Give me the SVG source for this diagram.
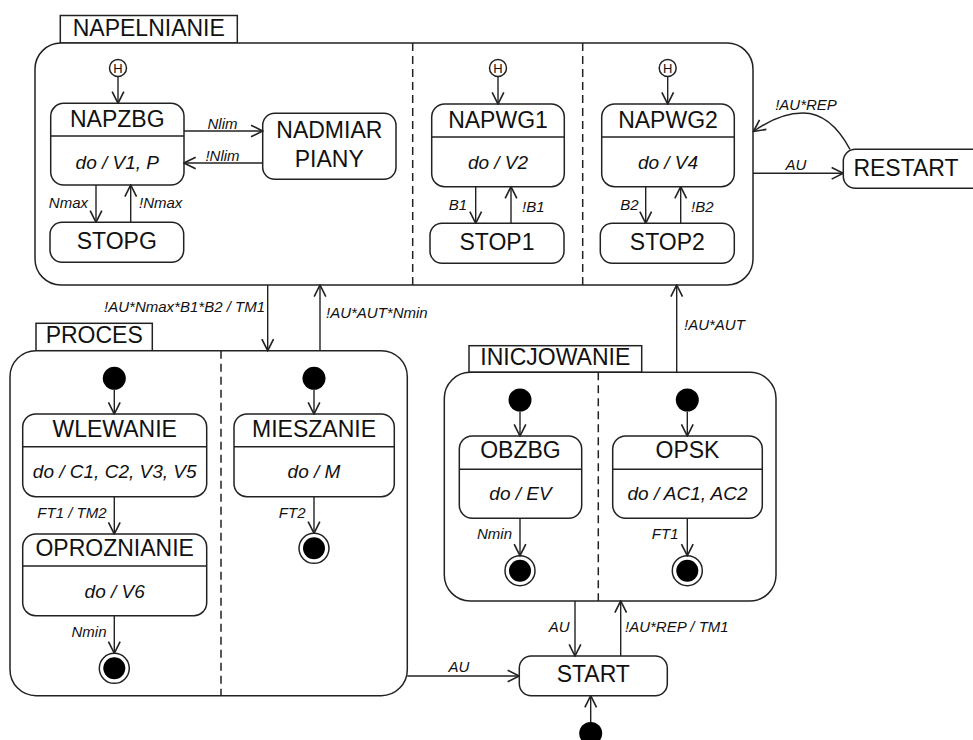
<svg xmlns="http://www.w3.org/2000/svg" width="973" height="740" viewBox="0 0 973 740">
<style>
text{font-family:"Liberation Sans",Arial,sans-serif;fill:#111}
.t{font-size:23px;text-anchor:middle}
.d{font-size:19px;font-style:italic;text-anchor:middle}
.l{font-size:15px;font-style:italic}
.e{text-anchor:end}
.h{font-size:13px;text-anchor:middle}
.box{fill:#fff;stroke:#222;stroke-width:1.5}
.ln{fill:none;stroke:#222;stroke-width:1.5}
.dash{fill:none;stroke:#222;stroke-width:1.5;stroke-dasharray:8,5}
.c{fill:none;stroke:#222;stroke-width:1.4;marker-end:url(#a)}
.dot{fill:#000}
</style>
<defs>
<marker id="a" markerUnits="userSpaceOnUse" markerWidth="14" markerHeight="14" viewBox="0 0 12 12" refX="11" refY="6" orient="auto">
<path d="M1,1 L11,6 L1,11" fill="none" stroke="#222" stroke-width="1.4"/>
</marker>
</defs>

<g id="NAPELNIANIE">
<rect class="box" x="60.3" y="15.5" width="177" height="27.5"/>
<text class="t" x="148.8" y="36">NAPELNIANIE</text>
<rect class="box" x="35" y="43" width="718" height="242" rx="26"/>
<line class="dash" x1="412.7" y1="43" x2="412.7" y2="285"/>
<line class="dash" x1="582.7" y1="43" x2="582.7" y2="285"/>
</g>
<g id="H1"><circle class="box" cx="118" cy="68" r="8.5"/><text class="h" x="118" y="72.6">H</text></g>
<g id="H2"><circle class="box" cx="498" cy="68" r="8.5"/><text class="h" x="498" y="72.6">H</text></g>
<g id="H3"><circle class="box" cx="667.7" cy="68" r="8.5"/><text class="h" x="667.7" y="72.6">H</text></g>
<g id="NAPZBG">
<rect class="box" x="50.7" y="103.3" width="133.3" height="81.7" rx="13"/>
<line class="ln" x1="50.7" y1="136" x2="184" y2="136"/>
<text class="t" x="117.3" y="126.7">NAPZBG</text>
<text class="d" x="117.3" y="169">do / V1, P</text>
</g>
<g id="NADMIAR_PIANY">
<rect class="box" x="262.7" y="113.3" width="133.3" height="66" rx="12"/>
<text class="t" x="329.3" y="138.3">NADMIAR</text>
<text class="t" x="329.3" y="167.3">PIANY</text>
</g>
<g id="STOPG">
<rect class="box" x="50" y="222.3" width="133.7" height="40" rx="12"/>
<text class="t" x="116.8" y="249">STOPG</text>
</g>
<g id="NAPWG1">
<rect class="box" x="431.7" y="104" width="132.6" height="82.7" rx="13"/>
<line class="ln" x1="431.7" y1="137" x2="564.3" y2="137"/>
<text class="t" x="498" y="128">NAPWG1</text>
<text class="d" x="498" y="169.3">do / V2</text>
</g>
<g id="STOP1">
<rect class="box" x="430" y="223.3" width="134" height="40" rx="12"/>
<text class="t" x="497" y="250">STOP1</text>
</g>
<g id="NAPWG2">
<rect class="box" x="601.7" y="104" width="132.6" height="82.7" rx="13"/>
<line class="ln" x1="601.7" y1="137" x2="734.3" y2="137"/>
<text class="t" x="668" y="128">NAPWG2</text>
<text class="d" x="668" y="169.3">do / V4</text>
</g>
<g id="STOP2">
<rect class="box" x="600.3" y="223.3" width="134" height="40" rx="12"/>
<text class="t" x="667.3" y="250">STOP2</text>
</g>
<g id="RESTART">
<rect class="box" x="843.3" y="149.3" width="160" height="39" rx="12"/>
<text class="t" x="906" y="175.7">RESTART</text>
</g>

<g id="PROCES">
<rect class="box" x="36" y="323.3" width="116.3" height="27.4"/>
<text class="t" x="94.2" y="343.3">PROCES</text>
<rect class="box" x="10" y="350.7" width="397.3" height="345" rx="26"/>
<line class="dash" x1="221" y1="350.7" x2="221" y2="695.7"/>
</g>
<g id="init_P1"><circle class="dot" cx="114.3" cy="378.3" r="11.5"/></g>
<g id="WLEWANIE">
<rect class="box" x="22.7" y="414" width="184" height="82.7" rx="13"/>
<line class="ln" x1="22.7" y1="446.7" x2="206.7" y2="446.7"/>
<text class="t" x="114.7" y="436.7">WLEWANIE</text>
<text class="d" x="114.7" y="478.3">do / C1, C2, V3, V5</text>
</g>
<g id="OPROZNIANIE">
<rect class="box" x="22.7" y="534" width="184" height="81.7" rx="13"/>
<line class="ln" x1="22.7" y1="566" x2="206.7" y2="566"/>
<text class="t" x="114.7" y="556">OPROZNIANIE</text>
<text class="d" x="114.7" y="598.3">do / V6</text>
</g>
<g id="final_P1"><circle class="box" cx="114.3" cy="668.3" r="15"/><circle class="dot" cx="114.3" cy="668.3" r="11"/></g>
<g id="init_P2"><circle class="dot" cx="314" cy="378.3" r="11.5"/></g>
<g id="MIESZANIE">
<rect class="box" x="234" y="414" width="160.3" height="82.7" rx="13"/>
<line class="ln" x1="234" y1="446.7" x2="394.3" y2="446.7"/>
<text class="t" x="314" y="436.7">MIESZANIE</text>
<text class="d" x="314" y="478.3">do / M</text>
</g>
<g id="final_P2"><circle class="box" cx="314" cy="548.3" r="15"/><circle class="dot" cx="314" cy="548.3" r="11"/></g>

<g id="INICJOWANIE">
<rect class="box" x="469" y="345.7" width="172.7" height="26.6"/>
<text class="t" x="555.3" y="365">INICJOWANIE</text>
<rect class="box" x="444.3" y="372.3" width="331.7" height="228.7" rx="26"/>
<line class="dash" x1="598.3" y1="372.3" x2="598.3" y2="601"/>
</g>
<g id="init_I1"><circle class="dot" cx="520" cy="400" r="11.5"/></g>
<g id="OBZBG">
<rect class="box" x="459.3" y="436" width="122.4" height="82.3" rx="13"/>
<line class="ln" x1="459.3" y1="469.3" x2="581.7" y2="469.3"/>
<text class="t" x="520.5" y="458.3">OBZBG</text>
<text class="d" x="520.5" y="500">do / EV</text>
</g>
<g id="final_I1"><circle class="box" cx="520" cy="570.7" r="15"/><circle class="dot" cx="520" cy="570.7" r="11"/></g>
<g id="init_I2"><circle class="dot" cx="687.3" cy="400" r="11.5"/></g>
<g id="OPSK">
<rect class="box" x="612.7" y="436" width="149.6" height="82.3" rx="13"/>
<line class="ln" x1="612.7" y1="469.3" x2="762.3" y2="469.3"/>
<text class="t" x="687.5" y="458.3">OPSK</text>
<text class="d" x="687.5" y="500">do / AC1, AC2</text>
</g>
<g id="final_I2"><circle class="box" cx="687.3" cy="570.7" r="15"/><circle class="dot" cx="687.3" cy="570.7" r="11"/></g>

<g id="START">
<rect class="box" x="519.3" y="656" width="148" height="39.7" rx="12"/>
<text class="t" x="593.3" y="682">START</text>
</g>
<g id="init_START"><circle class="dot" cx="590.7" cy="733.5" r="11.5"/></g>

<g id="connectors">
<line class="c" x1="118" y1="76.5" x2="118" y2="103.3"/>
<line class="c" x1="184" y1="131" x2="262.7" y2="131"/>
<line class="c" x1="262.7" y1="163" x2="184" y2="163"/>
<line class="c" x1="96" y1="185" x2="96" y2="222.3"/>
<line class="c" x1="130.7" y1="222.3" x2="130.7" y2="185"/>
<line class="c" x1="498" y1="76.5" x2="498" y2="104"/>
<line class="c" x1="475.7" y1="186.7" x2="475.7" y2="223.3"/>
<line class="c" x1="511" y1="223.3" x2="511" y2="186.7"/>
<line class="c" x1="667.7" y1="76.5" x2="667.7" y2="104"/>
<line class="c" x1="645.7" y1="186.7" x2="645.7" y2="223.3"/>
<line class="c" x1="680.7" y1="223.3" x2="680.7" y2="186.7"/>
<line class="c" x1="753" y1="173.3" x2="843.3" y2="173.3"/>
<path class="c" d="M850,149.3 C838,127 822,113 803,113 C786,113 768,121 753.5,131.5"/>
<line class="c" x1="267.7" y1="285" x2="267.7" y2="350.7"/>
<line class="c" x1="320" y1="350.7" x2="320" y2="285"/>
<line class="c" x1="676.7" y1="372.3" x2="676.7" y2="285"/>
<line class="c" x1="114.3" y1="389.8" x2="114.3" y2="414"/>
<line class="c" x1="114.3" y1="496.7" x2="114.3" y2="534"/>
<line class="c" x1="114.3" y1="615.7" x2="114.3" y2="653.3"/>
<line class="c" x1="314" y1="389.8" x2="314" y2="414"/>
<line class="c" x1="314" y1="496.7" x2="314" y2="533.3"/>
<line class="c" x1="520" y1="411.5" x2="520" y2="436"/>
<line class="c" x1="520" y1="518.3" x2="520" y2="555.7"/>
<line class="c" x1="687.3" y1="411.5" x2="687.3" y2="436"/>
<line class="c" x1="687.3" y1="518.3" x2="687.3" y2="555.7"/>
<line class="c" x1="575" y1="601" x2="575" y2="656"/>
<line class="c" x1="620.7" y1="656" x2="620.7" y2="601"/>
<line class="c" x1="407.3" y1="676" x2="519.3" y2="676"/>
<line class="c" x1="590.7" y1="722" x2="590.7" y2="695.7"/>
<text class="l" x="222.5" y="129" text-anchor="middle">Nlim</text>
<text class="l" x="222.5" y="161" text-anchor="middle">!Nlim</text>
<text class="l e" x="88" y="208">Nmax</text>
<text class="l" x="139" y="208">!Nmax</text>
<text class="l e" x="467" y="210">B1</text>
<text class="l" x="522" y="212">!B1</text>
<text class="l e" x="638.5" y="210">B2</text>
<text class="l" x="691" y="212">!B2</text>
<text class="l" x="806" y="110" text-anchor="middle">!AU*REP</text>
<text class="l" x="796" y="170" text-anchor="middle">AU</text>
<text class="l e" x="265" y="311.7">!AU*Nmax*B1*B2 / TM1</text>
<text class="l" x="326" y="318.3">!AU*AUT*Nmin</text>
<text class="l" x="684" y="330">!AU*AUT</text>
<text class="l e" x="106.5" y="518.3">FT1 / TM2</text>
<text class="l e" x="106.5" y="637.3">Nmin</text>
<text class="l e" x="305.5" y="518.3">FT2</text>
<text class="l e" x="512" y="539.3">Nmin</text>
<text class="l e" x="678.5" y="539.3">FT1</text>
<text class="l e" x="569.5" y="632.3">AU</text>
<text class="l" x="625" y="632.3">!AU*REP / TM1</text>
<text class="l" x="459" y="671.7" text-anchor="middle">AU</text>
</g>
</svg>
